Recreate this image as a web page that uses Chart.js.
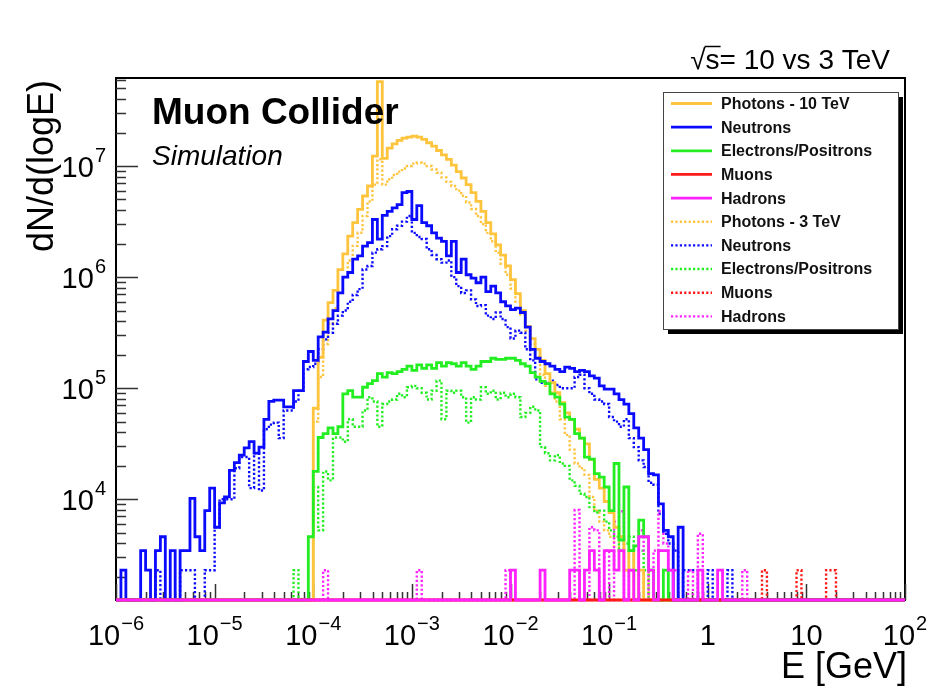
<!DOCTYPE html>
<html>
<head>
<meta charset="utf-8">
<title>Muon Collider - dN/d(logE)</title>
<script src="https://cdn.jsdelivr.net/npm/chart.js@4.4.0/dist/chart.umd.min.js"></script>
<style>
  html, body { margin: 0; padding: 0; background: #fff; }
  canvas { display: block; }
</style>
</head>
<body>
<canvas id="spectra" width="927" height="690"></canvas>
<script>
'use strict';

// binning in log10(E/GeV): -6 .. 2, 20 bins per decade
const logEmin = -6;
const binsPerDecade = 20;
const nBins = 160;
const eMin = 1e-6, eMax = 1e2;
const yMin = 1240, yMax = 6.2e7;

// bin contents, one row per decade (20 bins)
const photons10 = [
  0,0,0,0,0,0,0,0,0,0,0,0,0,0,0,0,0,0,0,0,
  0,0,0,0,0,0,0,0,0,0,0,0,0,0,0,0,0,0,0,0,
  6.6e4,1.9e5,4.1e5,5.9e5,7.6e5,1.17e6,1.62e6,2.34e6,3.09e6,4.07e6,5.37e6,6.61e6,1.23e7,5.75e7,1.17e7,1.45e7,1.58e7,1.70e7,1.78e7,1.82e7,
  1.86e7,1.82e7,1.74e7,1.62e7,1.51e7,1.38e7,1.26e7,1.15e7,1.02e7,8.9e6,7.8e6,6.8e6,5.75e6,4.8e6,3.9e6,3.1e6,2.45e6,1.95e6,1.58e6,1.26e6,
  9.5e5,7.1e5,5.0e5,3.6e5,2.8e5,2.24e5,1.78e5,1.35e5,1.12e5,9.1e4,7.4e4,6.0e4,5.25e4,4.27e4,3.55e4,3.16e4,2.29e4,1.51e4,1.26e4,9550,
  7600,5600,4600,2300,3450,0,2300,0,0,0,0,0,0,0,0,0,0,0,0,0,
  0,0,0,0,0,0,0,0,0,0,0,0,0,0,0,0,0,0,0,0,
  0,0,0,0,0,0,0,0,0,0,0,0,0,0,0,0,0,0,0,0
];
const neutrons10 = [
  0,2300,0,0,0,3450,2300,0,3450,4600,0,3450,0,3450,3450,1.02e4,4600,3450,7900,1.26e4,
  5600,9300,1.05e4,1.82e4,2.14e4,2.5e4,2.9e4,3.3e4,2.6e4,2.95e4,5.25e4,7.6e4,7.8e4,7.8e4,6.8e4,6.8e4,9.5e4,9.5e4,1.74e5,2.14e5,
  1.78e5,2.9e5,3.2e5,4.2e5,5.0e5,7.2e5,1.0e6,1.1e6,1.45e6,1.55e6,1.9e6,2.04e6,3.3e6,2.2e6,3.6e6,3.9e6,4.2e6,4.5e6,5.75e6,5.9e6,
  3.3e6,4.4e6,3.1e6,2.9e6,2.5e6,2.24e6,2.1e6,1.55e6,2.1e6,1.1e6,1.45e6,1.05e6,9.8e5,8.9e5,1.0e6,7.4e5,8.3e5,7.2e5,6.0e5,5.5e5,
  5.1e5,5.25e5,4.8e5,3.55e5,2.24e5,1.86e5,1.74e5,1.66e5,1.58e5,1.48e5,1.41e5,1.55e5,1.51e5,1.41e5,1.45e5,1.41e5,1.29e5,1.23e5,1.05e5,9.8e4,
  9.8e4,8.9e4,7.9e4,7.2e4,5.9e4,4.4e4,3.55e4,2.8e4,1.7e4,1.66e4,9100,5250,4600,0,5600,0,0,0,0,0,
  0,0,0,0,0,0,0,0,0,0,0,0,0,0,0,0,0,0,0,0,
  0,0,0,0,0,0,0,0,0,0,0,0,0,0,0,0,0,0,0,0
];
const electrons10 = [
  0,0,0,0,0,0,0,0,0,0,0,0,0,0,0,0,0,0,0,0,
  0,0,0,0,0,0,0,0,0,0,0,0,0,0,0,0,0,0,0,4600,
  1.78e4,3.6e4,3.9e4,4.4e4,3.9e4,4.5e4,8.9e4,9.5e4,8.3e4,8.3e4,1.02e5,1.1e5,1.17e5,1.35e5,1.26e5,1.38e5,1.35e5,1.41e5,1.48e5,1.58e5,
  1.45e5,1.62e5,1.51e5,1.62e5,1.51e5,1.7e5,1.58e5,1.7e5,1.66e5,1.58e5,1.7e5,1.58e5,1.48e5,1.58e5,1.74e5,1.74e5,1.86e5,1.82e5,1.82e5,1.86e5,
  1.86e5,1.78e5,1.66e5,1.58e5,1.38e5,1.26e5,1.15e5,1.1e5,8.9e4,8.3e4,7.2e4,5.5e4,5.25e4,3.9e4,3.55e4,2.4e4,2.3e4,1.7e4,1.58e4,1.29e4,
  7900,2.1e4,4300,1.29e4,3450,3800,6500,4600,2300,0,0,2300,0,0,0,0,0,0,0,0,
  0,0,0,0,0,0,0,0,0,0,0,0,0,0,0,0,0,0,0,0,
  0,0,0,0,0,0,0,0,0,0,0,0,0,0,0,0,0,0,0,0
];
const muons10 = [
  0,0,0,0,0,0,0,0,0,0,0,0,0,0,0,0,0,0,0,0,
  0,0,0,0,0,0,0,0,0,0,0,0,0,0,0,0,0,0,0,0,
  0,0,0,0,0,0,0,0,0,0,0,0,0,0,0,0,0,0,0,0,
  0,0,0,0,0,0,0,0,0,0,0,0,0,0,0,0,0,0,0,0,
  0,0,0,0,0,0,0,0,0,0,0,0,0,0,0,0,0,0,0,0,
  0,0,0,0,0,0,0,0,0,0,0,0,0,0,0,0,0,0,0,0,
  0,0,0,0,0,0,0,0,0,0,0,0,0,0,0,0,0,0,0,0,
  0,0,0,0,0,0,0,0,0,0,0,0,0,0,0,0,0,0,0,0
];
const hadrons10 = [
  0,0,0,0,0,0,0,0,0,0,0,0,0,0,0,0,0,0,0,0,
  0,0,0,0,0,0,0,0,0,0,0,0,0,0,0,0,0,0,0,0,
  0,0,0,0,0,0,0,0,0,0,0,0,0,0,0,0,0,0,0,0,
  0,0,0,0,0,0,0,0,0,0,0,0,0,0,0,0,0,0,0,0,
  2300,0,0,0,0,0,2300,0,0,0,0,0,2300,2300,0,2300,3450,2300,0,3450,
  3450,2300,3450,0,2300,0,4600,4600,2300,0,3450,3450,2300,0,0,0,0,0,2300,0,
  0,0,2300,0,0,0,0,0,0,0,0,0,0,0,0,0,0,0,0,0,
  0,0,0,0,0,0,0,0,0,0,0,0,0,0,0,0,0,0,0,0
];
const photons3 = [
  0,0,0,0,0,0,0,0,0,0,0,0,0,0,0,0,0,0,0,0,
  0,0,0,0,0,0,0,0,0,0,0,0,0,0,0,0,0,0,0,0,
  5.0e4,1.26e5,2.5e5,3.8e5,5.25e5,7.2e5,1.0e6,1.41e6,1.91e6,2.51e6,3.55e6,4.8e6,6.8e6,1.15e7,6.8e6,7.6e6,8.3e6,8.9e6,9.5e6,1.0e7,
  1.05e7,1.07e7,1.05e7,1.0e7,9.3e6,8.7e6,7.9e6,7.2e6,6.6e6,6.0e6,5.4e6,4.7e6,4.1e6,3.55e6,3.0e6,2.5e6,2.1e6,1.66e6,1.32e6,1.05e6,
  7.9e5,6.0e5,4.6e5,3.3e5,2.5e5,1.9e5,1.32e5,1.05e5,9.1e4,7.6e4,5.25e4,3.8e4,2.8e4,2.1e4,1.9e4,1.66e4,1.05e4,7900,6300,5250,
  4600,3450,4600,2300,3450,2300,0,2300,0,0,0,0,0,0,0,0,0,0,0,0,
  0,0,0,0,0,0,0,0,0,0,0,0,0,0,0,0,0,0,0,0,
  0,0,0,0,0,0,0,0,0,0,0,0,0,0,0,0,0,0,0,0
];
const neutrons3 = [
  0,0,0,0,0,0,0,0,2300,0,0,0,0,2300,2300,2300,0,0,2300,2300,
  5600,1.0e4,1.0e4,1.0e4,1.9e4,2.4e4,2.4e4,1.26e4,2.6e4,1.2e4,4.27e4,4.7e4,4.9e4,3.55e4,6.3e4,6.3e4,7.6e4,9.5e4,1.48e5,1.55e5,
  1.66e5,2.24e5,2.75e5,3.16e5,3.8e5,4.5e5,5.0e5,6.0e5,6.9e5,7.8e5,1.17e6,1.26e6,1.66e6,1.78e6,1.9e6,2.34e6,2.7e6,2.9e6,3.16e6,3.55e6,
  2.5e6,2.3e6,2.2e6,1.78e6,1.58e6,1.45e6,1.35e6,1.41e6,1.0e6,8.3e5,7.2e5,7.6e5,6.3e5,5.5e5,5.6e5,4.5e5,4.2e5,4.8e5,4.2e5,3.55e5,
  2.8e5,3.3e5,3.16e5,2.24e5,1.78e5,1.2e5,1.12e5,1.12e5,1.17e5,1.07e5,1.0e5,1.0e5,1.0e5,1.26e5,1.32e5,1.0e5,8.9e4,7.9e4,7.6e4,7.2e4,
  5.5e4,5.0e4,4.5e4,5.25e4,3.55e4,2.95e4,2.24e4,1.95e4,1.41e4,1.35e4,7400,4900,4000,3450,0,2300,2300,2300,0,0,
  2300,0,0,0,2300,0,0,0,0,0,0,0,0,0,0,0,0,0,0,0,
  0,0,0,0,0,0,0,0,0,0,0,0,0,0,0,0,0,0,0,0
];
const electrons3 = [
  0,0,0,0,0,0,0,0,0,0,0,0,0,0,0,0,0,0,0,0,
  0,0,0,0,0,0,0,0,0,0,0,0,0,0,0,0,2300,0,0,0,
  1.29e4,5250,1.78e4,1.48e4,3.6e4,3.6e4,3.3e4,5.25e4,4.5e4,4.5e4,6.3e4,8.3e4,7.6e4,4.5e4,7.2e4,7.6e4,7.9e4,8.9e4,8.3e4,1.02e5,
  1.05e5,1.0e5,9.1e4,7.9e4,9.5e4,1.17e5,5.25e4,9.5e4,9.1e4,9.5e4,8.3e4,4.9e4,8.3e4,7.9e4,1.02e5,8.9e4,9.5e4,7.9e4,9.1e4,8.3e4,
  8.9e4,8.3e4,5.5e4,6.0e4,6.8e4,6.3e4,2.95e4,2.6e4,2.24e4,2.5e4,2.1e4,2.0e4,1.48e4,1.32e4,1.12e4,1.05e4,8500,7600,7900,6300,
  5250,4600,3450,4000,4600,2300,3450,2300,0,0,0,0,0,0,0,0,0,0,0,0,
  0,0,0,0,0,0,0,0,0,0,0,0,0,0,0,0,0,0,0,0,
  0,0,0,0,0,0,0,0,0,0,0,0,0,0,0,0,0,0,0,0
];
const muons3 = [
  0,0,0,0,0,0,0,0,0,0,0,0,0,0,0,0,0,0,0,0,
  0,0,0,0,0,0,0,0,0,0,0,0,0,0,0,0,0,0,0,0,
  0,0,0,0,0,0,0,0,0,0,0,0,0,0,0,0,0,0,0,0,
  0,0,0,0,0,0,0,0,0,0,0,0,0,0,0,0,0,0,0,0,
  0,0,0,0,0,0,0,0,0,0,0,0,0,0,0,0,0,0,0,0,
  0,0,0,0,0,0,0,0,0,0,0,0,0,0,0,0,0,0,0,0,
  0,0,0,0,0,0,0,0,0,0,0,2300,0,0,0,0,0,0,2300,0,
  0,0,0,0,2300,2300,0,0,0,0,0,0,0,0,0,0,0,0,0,0
];
const hadrons3 = [
  0,0,0,0,0,0,0,0,0,0,0,0,0,0,0,0,0,0,0,0,
  0,0,0,0,0,0,0,0,0,0,0,0,0,0,0,0,0,0,0,0,
  0,0,2300,0,0,0,0,0,0,0,0,0,0,0,0,0,0,0,0,0,
  0,2300,0,0,0,0,0,0,0,0,0,0,0,0,0,0,0,0,0,2300,
  0,0,0,0,0,0,0,0,0,0,0,0,0,8000,0,0,5600,5250,0,3450,
  0,6300,7800,0,2300,0,5250,3450,0,3450,7800,4000,2300,2300,0,0,2300,0,4900,0,
  0,0,0,0,0,0,0,2300,0,0,0,0,0,0,0,0,0,0,0,0,
  0,0,0,0,0,0,0,0,0,0,0,0,0,0,0,0,0,0,0,0
];

const colPhot = '#ffc43d', colNeut = '#0a0aff', colElec = '#22ee22', colMuon = '#ff1a1a', colHadr = '#ff22ff';

// legend order; drawing order: dotted (3 TeV) first, solid (10 TeV) on top
const series = [
  {label: 'Photons - 10 TeV',    data: photons10,   color: colPhot, dotted: false, order: 5},
  {label: 'Neutrons',            data: neutrons10,  color: colNeut, dotted: false, order: 4},
  {label: 'Electrons/Positrons', data: electrons10, color: colElec, dotted: false, order: 3},
  {label: 'Muons',               data: muons10,     color: colMuon, dotted: false, order: 2},
  {label: 'Hadrons',             data: hadrons10,   color: colHadr, dotted: false, order: 1},
  {label: 'Photons - 3 TeV',     data: photons3,    color: colPhot, dotted: true, order: 10},
  {label: 'Neutrons',            data: neutrons3,   color: colNeut, dotted: true, order: 9},
  {label: 'Electrons/Positrons', data: electrons3,  color: colElec, dotted: true, order: 8},
  {label: 'Muons',               data: muons3,      color: colMuon, dotted: true, order: 7},
  {label: 'Hadrons',             data: hadrons3,    color: colHadr, dotted: true, order: 6}
];

// low edge of every bin plus the upper edge of the last one
const binEdges = [];
for (let k = 0; k <= nBins; k++) binEdges.push(Math.pow(10, logEmin + k / binsPerDecade));

function histPoints(counts) {
  // empty bins sit on the lower frame, as in a log-y histogram
  const pts = counts.map((c, k) => ({x: binEdges[k], y: c > 0 ? c : yMin}));
  const last = counts[counts.length - 1];
  pts.push({x: binEdges[nBins], y: last > 0 ? last : yMin});
  return pts;
}

const FONT = '"Liberation Sans", Arial, Helvetica, sans-serif';

function logTicks(min, max) {
  const out = [];
  const e0 = Math.floor(Math.log10(min)), e1 = Math.ceil(Math.log10(max));
  for (let e = e0; e <= e1; e++) {
    for (let s = 1; s <= 9; s++) {
      const v = s * Math.pow(10, e);
      if (v >= min * 0.999999 && v <= max * 1.000001) out.push({v: v, e: e, major: s === 1});
    }
  }
  return out;
}

// "10^n" with a raised exponent, like the ROOT axis labels
function powerLabel(ctx, e, xRef, base, align) {
  const big = '29px ' + FONT, small = '20px ' + FONT;
  ctx.textAlign = 'left';
  ctx.textBaseline = 'alphabetic';
  if (e === 0 || e === 1) {
    ctx.font = big;
    const t = e === 0 ? '1' : '10';
    const w = ctx.measureText(t).width;
    ctx.fillText(t, align === 'center' ? xRef - w / 2 : xRef - w, base);
    return;
  }
  const sup = e < 0 ? '\u2212' + (-e) : String(e);
  ctx.font = big;
  const w1 = ctx.measureText('10').width;
  ctx.font = small;
  const w2 = ctx.measureText(sup).width;
  const total = w1 + 1 + w2;
  const x0 = align === 'center' ? xRef - total / 2 : xRef - total;
  ctx.font = big;
  ctx.fillText('10', x0, base);
  ctx.font = small;
  ctx.fillText(sup, x0 + w1 + 1, base - 15);
}

const rootFrame = {
  id: 'rootFrame',
  beforeDatasetsDraw(chart) {
    const {ctx, chartArea: a, scales: {x, y}} = chart;
    ctx.save();
    ctx.strokeStyle = '#000';
    ctx.lineWidth = 2;
    ctx.strokeRect(a.left, a.top, a.right - a.left, a.bottom - a.top);
    ctx.strokeStyle = '#333';
    ctx.lineWidth = 1.5;
    ctx.beginPath();
    logTicks(x.min, x.max).forEach(t => {
      const px = Math.round(x.getPixelForValue(t.v)) + 0.5;
      ctx.moveTo(px, a.bottom);
      ctx.lineTo(px, a.bottom - (t.major ? 16 : 8));
    });
    logTicks(y.min, y.max).forEach(t => {
      const py = Math.round(y.getPixelForValue(t.v)) + 0.5;
      ctx.moveTo(a.left, py);
      ctx.lineTo(a.left + (t.major ? 22 : 10), py);
    });
    ctx.stroke();
    ctx.restore();
  },
  afterDraw(chart) {
    const {ctx, chartArea: a, scales: {x, y}} = chart;
    ctx.save();
    ctx.fillStyle = '#000';

    // axis labels
    logTicks(x.min, x.max).filter(t => t.major).forEach(t => {
      powerLabel(ctx, t.e, x.getPixelForValue(t.v), 645, 'center');
    });
    logTicks(y.min, y.max).filter(t => t.major).forEach(t => {
      powerLabel(ctx, t.e, a.left - 10, y.getPixelForValue(t.v) + 11, 'right');
    });

    // axis titles
    ctx.font = '36px ' + FONT;
    ctx.textAlign = 'right';
    ctx.textBaseline = 'alphabetic';
    ctx.fillText('E [GeV]', a.right + 2, 678);
    ctx.save();
    ctx.translate(53, a.top + 2);
    ctx.rotate(-Math.PI / 2);
    ctx.fillText('dN/d(logE)', 0, 0);
    ctx.restore();

    // labels inside the frame
    ctx.textAlign = 'left';
    ctx.font = 'bold 37px ' + FONT;
    ctx.fillText('Muon Collider', 152, 124);
    ctx.font = 'italic 28px ' + FONT;
    ctx.fillText('Simulation', 152, 165);

    // energy label top right
    ctx.font = '28px ' + FONT;
    const txt = '\u221As= 10 vs 3 TeV';
    const tw = ctx.measureText(txt).width;
    const tx = 890 - tw;
    ctx.fillText(txt, tx, 69);
    const wr = ctx.measureText('\u221A').width, ws = ctx.measureText('s').width;
    ctx.strokeStyle = '#000';
    ctx.lineWidth = 1.5;
    ctx.beginPath();
    ctx.moveTo(tx + wr - 1, 46.5);
    ctx.lineTo(tx + wr + ws + 1, 46.5);
    ctx.stroke();

    // legend box with drop shadow
    const bx = 663, by = 92, bw = 235, bh = 237;
    ctx.fillStyle = '#000';
    ctx.fillRect(bx + 5, by + 5, bw, bh);
    ctx.fillStyle = '#fff';
    ctx.fillRect(bx, by, bw, bh);
    ctx.strokeStyle = '#444';
    ctx.lineWidth = 1;
    ctx.strokeRect(bx + 0.5, by + 0.5, bw, bh);
    ctx.font = 'bold 16px ' + FONT;
    ctx.textBaseline = 'middle';
    chart.data.datasets.forEach((ds, i) => {
      const ry = by + 11.5 + i * 23.65;
      ctx.strokeStyle = ds.borderColor;
      ctx.lineWidth = ds.borderWidth;
      ctx.setLineDash(ds.borderDash || []);
      ctx.beginPath();
      ctx.moveTo(bx + 8, ry);
      ctx.lineTo(bx + 49, ry);
      ctx.stroke();
      ctx.setLineDash([]);
      ctx.fillStyle = '#111';
      ctx.fillText(ds.label, bx + 58, ry + 1);
    });
    ctx.restore();
  }
};

new Chart(document.getElementById('spectra'), {
  type: 'line',
  data: {
    datasets: series.map(s => ({
      label: s.label,
      data: histPoints(s.data),
      borderColor: s.color,
      borderWidth: s.dotted ? 2.4 : 2.8,
      borderDash: s.dotted ? [2.2, 2.2] : [],
      stepped: 'before',
      fill: false,
      pointRadius: 0,
      clip: false,
      order: s.order
    }))
  },
  options: {
    responsive: false,
    animation: false,
    devicePixelRatio: 1,
    layout: {padding: {top: 78, right: 22, left: 0, bottom: 0}},
    plugins: {legend: {display: false}, tooltip: {enabled: false}},
    scales: {
      x: {
        type: 'logarithmic', min: eMin, max: eMax,
        grid: {display: false}, border: {display: false}, ticks: {display: false},
        afterFit: s => { s.height = 90; }
      },
      y: {
        type: 'logarithmic', min: yMin, max: yMax,
        grid: {display: false}, border: {display: false}, ticks: {display: false},
        afterFit: s => { s.width = 116; }
      }
    }
  },
  plugins: [rootFrame]
});
</script>
</body>
</html>
